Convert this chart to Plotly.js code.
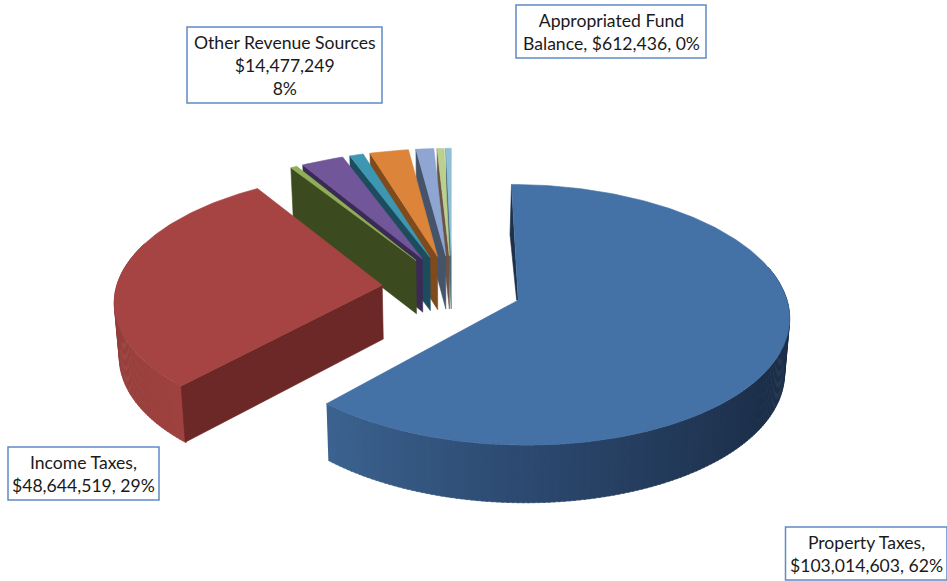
<!DOCTYPE html>
<html>
<head>
<meta charset="utf-8">
<script src="https://cdn.plot.ly/plotly-3.0.1.min.js"></script>
<style>html,body{margin:0;padding:0;background:#fff}#chart{width:947px;height:581px}</style>
</head>
<body>
<div id="chart"></div>
<script>
// Revenue by source, clockwise from twelve o'clock
const sources = ['Property Taxes', 'Income Taxes', 'Licenses', 'Intergovernmental', 'Fines', 'Charges for Services', 'Interest', 'Miscellaneous', 'Appropriated Fund Balance'];
const amounts = [103014603, 48644519, 742000, 4860000, 1575000, 4447000, 2040000, 813249, 612436];
const topColors = ['#4471a6', '#a54442', '#8fae56', '#72569a', '#3d97b3', '#dc8439', '#8fa6d2', '#bcd08e', '#8fc0d8'];
const wallColors = ['#1d3048', '#6b2826', '#3b4a1f', '#3a2a55', '#1d4c5e', '#7f4a1c', '#46546b', '#6b5445', '#4d6b77'];

// Callout text and boxes
const calloutText = ['Other Revenue Sources<br>$14,477,249<br>8%', 'Appropriated Fund<br>Balance, $612,436, 0%', 'Income Taxes,<br>$48,644,519, 29%', 'Property Taxes,<br>$103,014,603, 62%'];
const calloutBoxes = [[187, 27, 382, 103], [516, 5, 706, 58], [8, 447, 159, 500], [785.5, 527, 947, 580]];

// Projection of the tilted, exploded pie onto the page
const CX = 452, CY = 288, RX = 266, RY = 126, DEPTH = 0.111, THICK = 54, PULL = 0.264, TAPER = 0.985;
const rad = d => d * Math.PI / 180;

function project(X, Y, lower) {
  const w = 1 + DEPTH * Y;
  let x = CX + RX * X / w;
  let y = CY - RY * Y / w;
  if (lower) {
    x = CX + (x - CX) * TAPER;
    y += THICK / Math.sqrt(w);
  }
  return [x, y];
}

const total = amounts.reduce((a, b) => a + b, 0);
let running = 0;
const wedges = amounts.map((v, i) => {
  const start = running / total * 360;
  running += v;
  const end = running / total * 360;
  const mid = rad((start + end) / 2);
  return {i, start, end, ox: PULL * Math.sin(mid), oy: PULL * Math.cos(mid)};
});

const rim = (w, deg, lower) => project(w.ox + Math.sin(rad(deg)), w.oy + Math.cos(rad(deg)), lower);
const apex = (w, lower) => project(w.ox, w.oy, lower);

const traces = [];
function polygon(pts, color) {
  traces.push({
    type: 'scatter', mode: 'lines', fill: 'toself', fillcolor: color,
    x: pts.map(p => p[0]), y: pts.map(p => p[1]),
    line: {color: color, width: 0.6}, hoverinfo: 'skip', showlegend: false
  });
}

function topFace(w) {
  const pts = [apex(w, false)];
  const steps = Math.max(2, Math.ceil(w.end - w.start));
  for (let s = 0; s <= steps; s++) pts.push(rim(w, w.start + (w.end - w.start) * s / steps, false));
  pts.push(apex(w, false));
  polygon(pts, topColors[w.i]);
}

// Flat cut face along one edge of a wedge
function cutFace(w, deg, color) {
  polygon([apex(w, false), rim(w, deg, false), rim(w, deg, true), apex(w, true), apex(w, false)], color);
}

function mix(a, b, t) {
  const p = h => [1, 3, 5].map(k => parseInt(h.substr(k, 2), 16));
  const A = p(a), B = p(b);
  return 'rgb(' + A.map((c, k) => Math.round(c + (B[k] - c) * t)).join(',') + ')';
}

// Curved outer wall, shaded through a list of colour stops
function outerWall(w, from, to, stops) {
  const n = Math.ceil(Math.abs(to - from) / 1);
  for (let s = 0; s < n; s++) {
    const a = from + (to - from) * s / n;
    const b = from + (to - from) * (s + 1.3) / n;
    const f = s / (n - 1) * (stops.length - 1);
    const k = Math.min(stops.length - 2, Math.floor(f));
    polygon([rim(w, a, false), rim(w, b, false), rim(w, b, true), rim(w, a, true)], mix(stops[k], stops[k + 1], f - k));
  }
}

// Small wedges, back to front
for (let i = wedges.length - 1; i >= 2; i--) {
  cutFace(wedges[i], wedges[i].start, wallColors[i]);
  topFace(wedges[i]);
}

// Income Taxes
outerWall(wedges[1], 290, wedges[1].start, ['#893a37', '#8f3d3a', '#983f3c', '#9f423f']);
cutFace(wedges[1], wedges[1].start, wallColors[1]);
topFace(wedges[1]);

// Property Taxes
const blue = wedges[0];
const farEdge = rim(blue, 0, false), tip = apex(blue, false);
polygon([farEdge, [farEdge[0] - 1.5, farEdge[1] + 50], [tip[0] - 1.5, tip[1]], tip], '#1d3048');
outerWall(blue, blue.end, 75, ['#3c6390', '#32547d', '#2a456a', '#223958', '#1c2f4a', '#1b2e48', '#1e3350']);
topFace(blue);

const layout = {
  width: 947, height: 581,
  margin: {l: 0, r: 0, t: 0, b: 0},
  paper_bgcolor: '#fff', plot_bgcolor: '#fff',
  showlegend: false,
  xaxis: {range: [0, 947], visible: false, fixedrange: true},
  yaxis: {range: [581, 0], visible: false, fixedrange: true},
  shapes: calloutBoxes.map(b => ({
    type: 'rect', xref: 'x', yref: 'y', x0: b[0], y0: b[1], x1: b[2], y1: b[3],
    line: {color: '#5f8ac4', width: 1.5}, fillcolor: '#fff', layer: 'above'
  })),
  annotations: calloutText.map((t, i) => ({
    xref: 'x', yref: 'y',
    x: (calloutBoxes[i][0] + calloutBoxes[i][2]) / 2,
    y: (calloutBoxes[i][1] + calloutBoxes[i][3]) / 2,
    text: t, showarrow: false, align: 'center', xanchor: 'center', yanchor: 'middle',
    font: {family: 'Lato, "Open Sans", sans-serif', size: 17.6, color: '#1a1a1a'}
  }))
};

Plotly.newPlot('chart', traces, layout, {displayModeBar: false, staticPlot: true});
</script>
</body>
</html>
